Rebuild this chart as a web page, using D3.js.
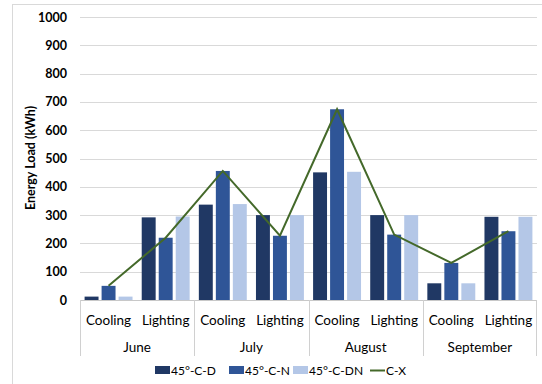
<!DOCTYPE html>
<html>
<head>
<meta charset="utf-8">
<script src="https://cdn.jsdelivr.net/npm/d3@7"></script>
<style>
  body { margin: 0; background: #fff; }
  svg { display: block; font-family: Lato, "Open Sans", sans-serif; }
</style>
</head>
<body>
<svg width="542" height="384"></svg>
<script>
  var months = ["June", "July", "August", "September"];
  var uses = ["Cooling", "Lighting"];
  var seriesNames = ["45°-C-D", "45°-C-N", "45°-C-DN"];
  var lineName = "C-X";
  var yTicks = [0, 100, 200, 300, 400, 500, 600, 700, 800, 900, 1000];

  // order: June Cooling, June Lighting, July Cooling, ...
  var valD  = [12, 292, 337, 300, 451, 300, 59, 294];
  var valN  = [50, 220, 456, 227, 674, 231, 131, 243];
  var valDN = [12, 295, 339, 300, 453, 300, 59, 294];
  var valCX = [50, 220, 456, 227, 674, 231, 131, 243];

  var colors = ["#203864", "#2f5597", "#b4c7e7"];
  var lineColor = "#44692a";

  var svg = d3.select("svg");
  var plotL = 80, plotR = 537, plotT = 17, plotB = 300;

  // outer chart border (cut off at right and bottom like the source)
  svg.append("rect")
      .attr("x", 12.5).attr("y", 4.5)
      .attr("width", 560).attr("height", 420)
      .attr("fill", "none").attr("stroke", "#d9d9d9");

  var x0 = d3.scaleBand().domain(months).range([plotL, plotR]);
  var x1 = d3.scaleBand().domain(uses).range([0, x0.bandwidth()]);
  var x2 = d3.scaleBand().domain(d3.range(3))
      .range([0, x1.bandwidth()])
      .paddingInner(0.18).paddingOuter(0.27);

  var y = d3.scaleLinear().domain([0, 1000]).range([plotB, plotT]);

  // grid
  svg.append("g")
    .selectAll("line")
    .data(yTicks.slice(1))
    .enter().append("line")
      .attr("x1", plotL).attr("x2", plotR)
      .attr("y1", function(d) { return Math.round(y(d)) + 0.5; })
      .attr("y2", function(d) { return Math.round(y(d)) + 0.5; })
      .attr("stroke", "#d9d9d9");

  // y axis labels
  var yAxis = svg.append("g")
      .attr("transform", "translate(" + (plotL - 13) + ",0)")
      .call(d3.axisLeft(y).tickValues(yTicks).tickFormat(d3.format("d"))
          .tickSize(0).tickPadding(0));
  yAxis.select(".domain").remove();
  yAxis.selectAll("text")
      .attr("font-family", "Lato, sans-serif")
      .attr("font-size", 12.5)
      .attr("font-weight", "bold")
      .attr("fill", "#000");

  svg.append("text")
      .attr("transform", "translate(35,158) rotate(-90)")
      .attr("text-anchor", "middle")
      .attr("font-size", 12.5)
      .attr("font-weight", "bold")
      .text("Energy Load (kWh)");

  // flatten data rows
  var rows = [];
  months.forEach(function(m, i) {
    uses.forEach(function(u, j) {
      var k = i * 2 + j;
      rows.push({ month: m, use: u, vals: [valD[k], valN[k], valDN[k]], cx: valCX[k] });
    });
  });

  var cell = svg.append("g").selectAll("g")
    .data(rows)
    .enter().append("g")
      .attr("transform", function(d) { return "translate(" + (x0(d.month) + x1(d.use)) + ",0)"; });

  cell.selectAll("rect")
    .data(function(d) { return d.vals; })
    .enter().append("rect")
      .attr("x", function(d, i) { return x2(i); })
      .attr("width", x2.bandwidth())
      .attr("y", function(d) { return y(d); })
      .attr("height", function(d) { return y(0) - y(d); })
      .attr("fill", function(d, i) { return colors[i]; });

  // axis line and group separators
  svg.append("line")
      .attr("x1", plotL).attr("x2", plotR)
      .attr("y1", plotB + 0.5).attr("y2", plotB + 0.5)
      .attr("stroke", "#c8c8c8");

  svg.append("g").selectAll("line")
    .data(months.concat(["end"]))
    .enter().append("line")
      .attr("x1", function(d) { return d === "end" ? plotR - 0.5 : Math.round(x0(d)) + 0.5; })
      .attr("x2", function(d) { return d === "end" ? plotR - 0.5 : Math.round(x0(d)) + 0.5; })
      .attr("y1", plotB).attr("y2", 356)
      .attr("stroke", "#d0d0d0");

  cell.append("text")
      .attr("x", x1.bandwidth() / 2)
      .attr("y", 325)
      .attr("text-anchor", "middle")
      .attr("font-size", 13.5)
      .text(function(d) { return d.use; });

  svg.append("g").selectAll("text")
    .data(months)
    .enter().append("text")
      .attr("x", function(d) { return x0(d) + x0.bandwidth() / 2; })
      .attr("y", 352)
      .attr("text-anchor", "middle")
      .attr("font-size", 13.5)
      .text(function(d) { return d; });

  // C-X line
  var line = d3.line()
      .x(function(d) { return x0(d.month) + x1(d.use) + x1.bandwidth() / 2; })
      .y(function(d) { return y(d.cx); });

  svg.append("path")
      .datum(rows)
      .attr("d", line)
      .attr("fill", "none")
      .attr("stroke", lineColor)
      .attr("stroke-width", 2);

  // legend
  var legendX = [155, 229, 293, 370];
  var legend = svg.append("g");
  seriesNames.forEach(function(name, i) {
    legend.append("rect")
        .attr("x", legendX[i]).attr("y", 366)
        .attr("width", 15).attr("height", 8)
        .attr("fill", colors[i]);
    legend.append("text")
        .attr("x", legendX[i] + 16).attr("y", 375)
        .attr("font-size", 12)
        .text(name);
  });
  legend.append("line")
      .attr("x1", legendX[3]).attr("x2", legendX[3] + 15)
      .attr("y1", 370.5).attr("y2", 370.5)
      .attr("stroke", lineColor).attr("stroke-width", 2);
  legend.append("text")
      .attr("x", legendX[3] + 16).attr("y", 375)
      .attr("font-size", 12)
      .text(lineName);
</script>
</body>
</html>
